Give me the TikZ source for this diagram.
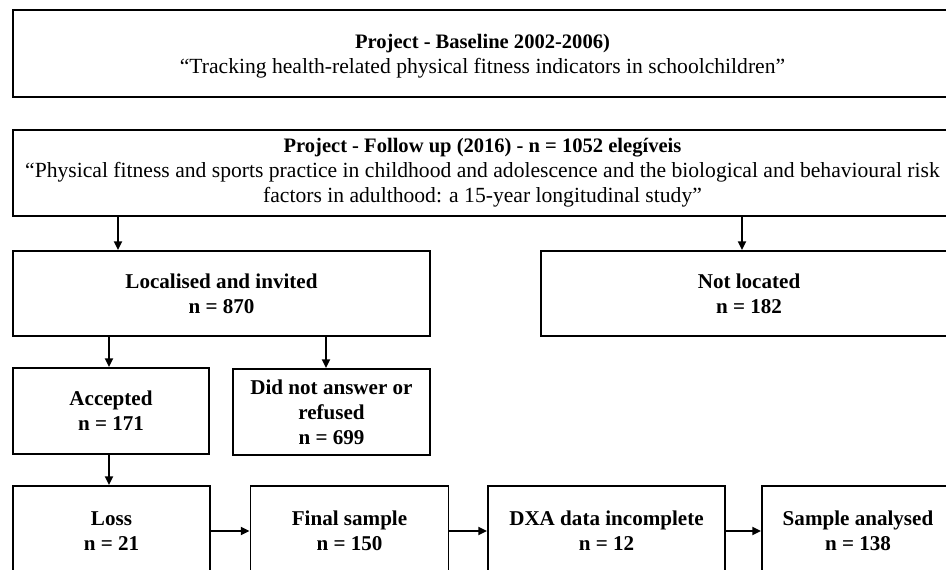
\documentclass[tikz,border=0pt]{standalone}
\usepackage{fontspec}
\setmainfont{Liberation Serif}
\usetikzlibrary{arrows.meta,positioning}

\tikzset{
    box/.style={draw, line width=1.1pt, align=center, inner sep=0pt,
        font=\fontsize{12}{14.2}\selectfont\bfseries},
    titlebox/.style={box, font=\fontsize{12.3}{14.2}\selectfont},
    arr/.style={line width=1.1pt, -{Triangle[length=5pt,width=4.6pt]}},
}
\newcommand{\headline}[1]{{\fontsize{11.7}{14.2}\selectfont\bfseries #1}}

\begin{document}
\begin{tikzpicture}[x=0.02cm,y=-0.02cm]
    %% Frame
    \useasboundingbox (0,0) rectangle (946,570);
    \clip (0,0) rectangle (946,570);
    %% Study projects
    \node[titlebox, minimum width=18.78cm, minimum height=1.74cm, text depth=-0.04cm] (base) at (482.5,53.5)
        {\headline{Project - Baseline 2002-2006)}\\
        ``Tracking health-related physical fitness indicators in schoolchildren''};
    \node[titlebox, minimum width=18.78cm, minimum height=1.72cm] (follow) at (482.5,173)
        {\headline{Project - Follow up (2016) - n = 1052 elegíveis}\\
        ``Physical fitness and sports practice in childhood and adolescence and the biological and behavioural risk\\
        factors in adulthood: a 15-year longitudinal study''};
    %% Recruitment
    \node[box, minimum width=8.34cm, minimum height=1.7cm] (local) at (221.5,293.5)
        {Localised and invited\\n = 870};
    \node[box, minimum width=8.32cm, minimum height=1.7cm] (notloc) at (749,293.5)
        {Not located\\n = 182};
    \node[box, minimum width=3.92cm, minimum height=1.72cm] (accept) at (111,411)
        {Accepted\\n = 171};
    \node[box, minimum width=3.94cm, minimum height=1.72cm] (refuse) at (331.5,412)
        {Did not answer or\\refused\\n = 699};
    %% Sample
    \node[box, minimum width=3.94cm, minimum height=1.8cm] (loss) at (111.5,531)
        {Loss\\n = 21};
    \node[box, minimum width=3.96cm, minimum height=1.8cm] (final) at (349.5,531)
        {Final sample\\n = 150};
    \node[box, minimum width=4.74cm, minimum height=1.8cm] (dxa) at (606.5,531)
        {DXA data incomplete\\n = 12};
    \node[box, minimum width=3.84cm, minimum height=1.8cm] (analysed) at (858,531)
        {Sample analysed\\n = 138};
    %% Arrows
    \coordinate (c1) at (118,0);
    \coordinate (c2) at (742,0);
    \coordinate (c3) at (109,0);
    \coordinate (c4) at (326,0);
    \draw[arr] (c1 |- follow.south) -- (c1 |- local.north);
    \draw[arr] (c2 |- follow.south) -- (c2 |- notloc.north);
    \draw[arr] (c3 |- local.south) -- (c3 |- accept.north);
    \draw[arr] (c4 |- local.south) -- (c4 |- refuse.north);
    \draw[arr] (c3 |- accept.south) -- (c3 |- loss.north);
    \draw[arr] (loss) -- (final);
    \draw[arr] (final) -- (dxa);
    \draw[arr] (dxa) -- (analysed);
\end{tikzpicture}
\end{document}
